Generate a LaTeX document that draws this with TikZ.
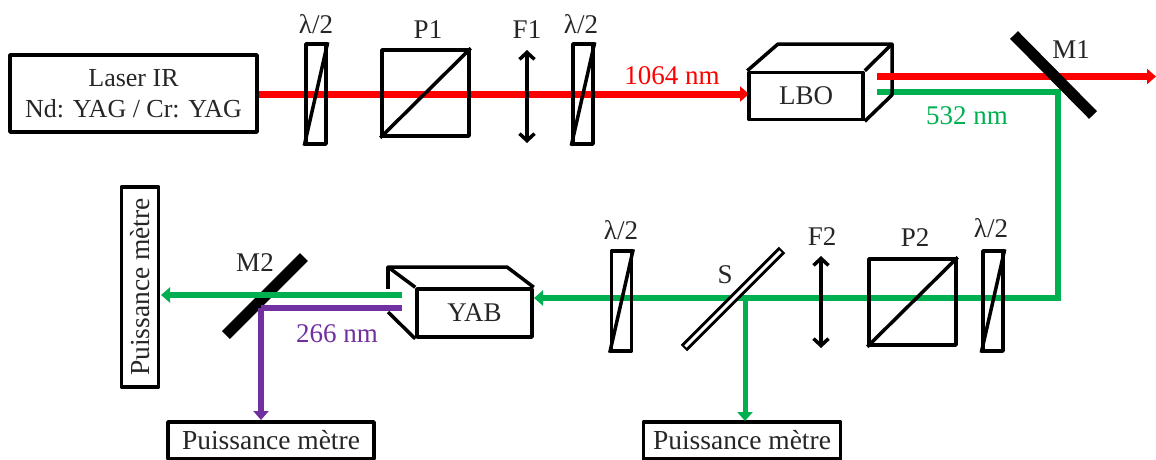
\documentclass[tikz,border=0pt]{standalone}
\usepackage{fontspec}
\setmainfont{Liberation Serif}
\usetikzlibrary{arrows.meta}
\definecolor{irred}{HTML}{FF0000}
\definecolor{vgreen}{HTML}{00B050}
\definecolor{uvpurple}{HTML}{7030A0}
\tikzset{
  x=1pt,y=-1pt,
  every node/.style={font=\fontsize{27}{31}\selectfont,text=black!85},
  part/.style={draw=black,line width=3.5pt,line join=round,inner sep=0pt,text=black!85},
  edge3/.style={draw=black,line width=3.5pt,line join=round,line cap=butt},
  wave/.style={part,minimum width=20pt,minimum height=100pt},
  cube/.style={part,minimum width=87pt,minimum height=86pt},
  meter/.style={part,minimum height=37pt,fill=white,font=\fontsize{27.5}{31}\selectfont},
  beam/.style={line width=6pt,line join=miter},
  irbeam/.style={beam,draw=irred,line width=7pt},
  gbeam/.style={beam,draw=vgreen},
  pbeam/.style={beam,draw=uvpurple},
  tip/.style={-{Triangle[length=9pt,width=15pt,inset=0pt]}},
  lens/.style={draw=black,line width=3.5pt,{Straight Barb[length=7pt,width=15pt,line width=3.5pt]}-{Straight Barb[length=7pt,width=15pt,line width=3.5pt]}},
  mirror/.style={draw=black,line width=11pt},
}
\begin{document}
\begin{tikzpicture}
\useasboundingbox (0,0) rectangle (1156,459);
\coordinate (redstart) at (257,94);
\coordinate (lboin) at (749,94);
\coordinate (redout) at (877,76.5);
\coordinate (redend) at (1156,76.5);
\coordinate (greenout) at (877,91.5);
\coordinate (greencornerA) at (1058,91.5);
\coordinate (greencornerB) at (1058,298);
\coordinate (yabin) at (534,298);
\coordinate (splitS) at (745,298);
\coordinate (yabgreen) at (402,295);
\coordinate (yabuv) at (402,308);
\coordinate (uvcorner) at (261,308);
\coordinate (m1a) at (1014,35);
\coordinate (m1b) at (1093,115);
\coordinate (m2a) at (304,257);
\coordinate (m2b) at (226,335);
\coordinate (sa) at (782,250);
\coordinate (sb) at (684,348);
\draw[mirror] (m2a) -- (m2b);
\node[meter,minimum width=206pt] (pmuv) at (271,440.5) {Puissance mètre};
\node[meter,minimum width=197pt] (pmg) at (742,440.5) {Puissance mètre};
\node[meter,minimum width=200pt,rotate=90] (pmside) at (140,287) {Puissance mètre\hspace{6pt}};
\draw[irbeam,tip] (redstart) -- (lboin);
\draw[gbeam,tip] (greenout) -- (greencornerA) -- (greencornerB) -- (yabin);
\draw[gbeam,tip,line width=5pt] (splitS) -- (745,421);
\draw[gbeam,tip] (yabgreen) -- (161,295);
\draw[pbeam] (yabuv) -- (uvcorner);
\draw[pbeam,tip] (uvcorner) -- (261,420);
\node[part,minimum width=247pt,minimum height=77pt,align=center,font=\fontsize{26}{31}\selectfont] (laser) at (133.5,93.5) {Laser IR\\Nd: YAG / Cr: YAG};
\node[wave] (hw1) at (316,94) {};
\draw[edge3] (hw1.south west) -- (hw1.north east);
\node[cube] (p1) at (425.5,93) {};
\draw[edge3] (p1.south west) -- (p1.north east);
\draw[lens] (527,50) -- (527,143);
\node[wave] (hw2) at (583,94) {};
\draw[edge3] (hw2.south west) -- (hw2.north east);
\node (lblhw1) at (316,24) {λ/2};
\node (lblp1) at (428,30) {P1};
\node (lblf1) at (527,30) {F1};
\node (lblhw2) at (581,24) {λ/2};
\node[text=irred] (lbl1064) at (672,76) {1064 nm};
\node[part,minimum width=114pt,minimum height=47pt] (lbo) at (806,96) {LBO};
\draw[edge3] (lbo.north west) -- (778,44) -- (892,44) -- (lbo.north east);
\draw[edge3] (892,44) -- (892,95) -- (lbo.south east);
\draw[irbeam,tip] (redout) -- (redend);
\draw[mirror] (m1a) -- (m1b);
\node (lblm1) at (1071,50) {M1};
\node[text=vgreen] (lbl532) at (967,116) {532 nm};
\node[wave] (hw4) at (993,301) {};
\draw[edge3] (hw4.south west) -- (hw4.north east);
\node (lblhw4) at (991,228) {λ/2};
\node[cube] (p2) at (912.5,302) {};
\draw[edge3] (p2.south west) -- (p2.north east);
\node (lblp2) at (915,238) {P2};
\draw[lens] (821,256) -- (821,348);
\node (lblf2) at (822,237) {F2};
\draw[draw=black,line width=9pt] (sa) -- (sb);
\draw[draw=white,line width=3pt,shorten >=2pt,shorten <=2pt] (sa) -- (sb);
\node (lbls) at (725,275) {S};
\node[wave] (hw3) at (621.5,301) {};
\draw[edge3] (hw3.south west) -- (hw3.north east);
\node (lblhw3) at (621,230) {λ/2};
\node[part,minimum width=115pt,minimum height=48pt] (yab) at (474.5,313) {YAB};
\draw[edge3] (yab.north west) -- (388,267) -- (507,267) -- (yab.north east);
\draw[edge3] (388,267) -- (388,289);
\draw[edge3] (388,312) -- (yab.south west);
\node (lblm2) at (255,263) {M2};
\node[text=uvpurple] (lbl266) at (337,334) {266 nm};
\end{tikzpicture}
\end{document}
